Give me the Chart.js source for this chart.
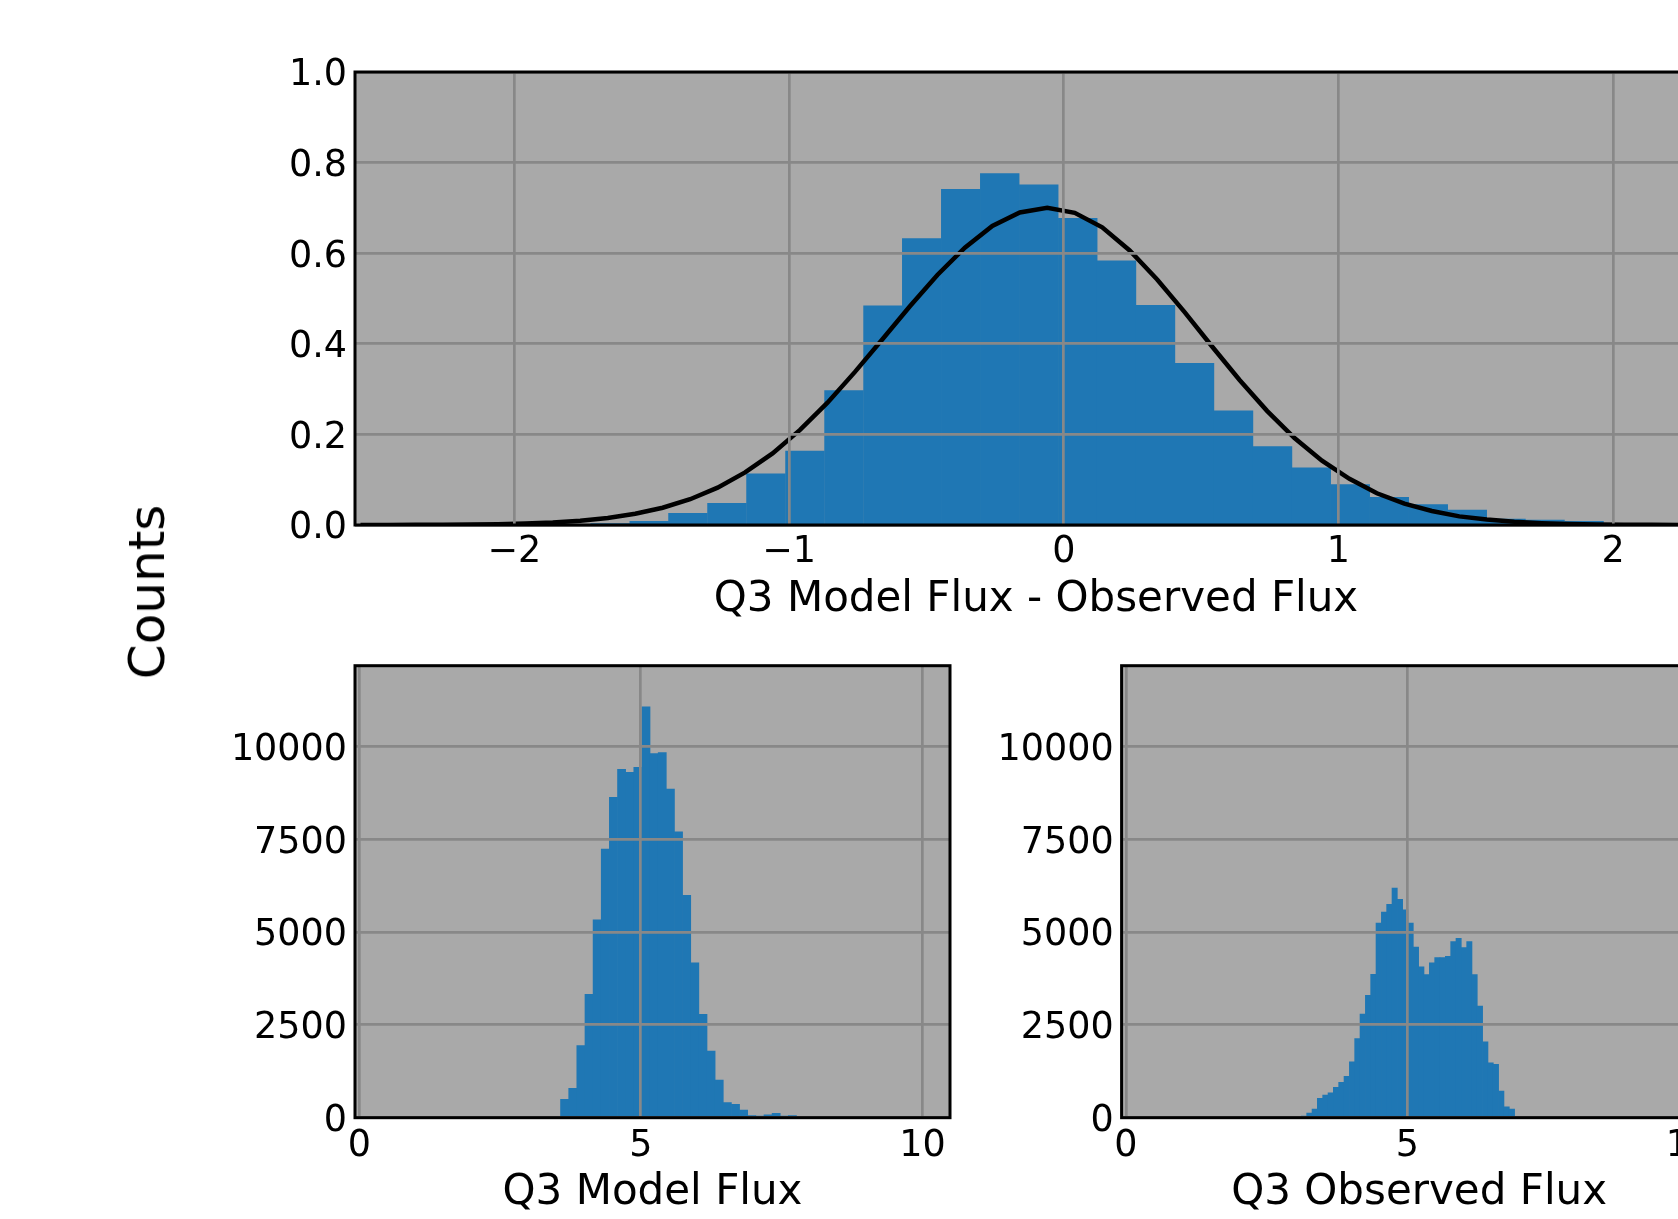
<!DOCTYPE html>
<html>
<head>
<meta charset="utf-8">
<title>Q3 flux histograms</title>
<script src="https://cdn.jsdelivr.net/npm/chart.js@4.4.1/dist/chart.umd.min.js"></script>
<style>
    html, body { margin: 0; padding: 0; background: #fff; overflow: hidden; }
    #fig { position: relative; width: 1678px; height: 1219px; overflow: hidden; background: #fff; }
    #fig canvas { position: absolute; }
    #counts {
        position: absolute; left: 147px; top: 592px;
        transform: translate(-50%, -50%) rotate(-90deg);
        font-family: 'DejaVu Sans', sans-serif; font-size: 50px; line-height: 50px;
        white-space: nowrap; color: #000;
    }
</style>
</head>
<body>
<div id="fig">
    <canvas id="diffChart" width="1760" height="640" style="left:0;top:0"></canvas>
    <canvas id="modelChart" width="1050" height="619" style="left:0;top:600px"></canvas>
    <canvas id="obsChart" width="800" height="619" style="left:960px;top:600px"></canvas>
    <div id="counts">Counts</div>
</div>
<script>
// Model - observed residuals (bin centres, normalised counts)
const diffBins = [-1.651, -1.509, -1.368, -1.226, -1.084, -0.942, -0.800, -0.658, -0.517, -0.375,
                  -0.233, -0.091, 0.051, 0.192, 0.334, 0.476, 0.618, 0.760, 0.901, 1.043,
                  1.185, 1.327, 1.469, 1.610, 1.752, 1.894];
const diffCounts = [0.003, 0.008, 0.026, 0.048, 0.113, 0.163, 0.297, 0.484, 0.632, 0.741,
                    0.776, 0.751, 0.677, 0.583, 0.485, 0.357, 0.252, 0.173, 0.126, 0.089,
                    0.061, 0.045, 0.033, 0.013, 0.011, 0.008];

// Fitted curve
const fitX = [-2.56, -2.46, -2.36, -2.26, -2.16, -2.06, -1.96, -1.86, -1.76, -1.66,
              -1.56, -1.46, -1.36, -1.26, -1.16, -1.06, -0.96, -0.86, -0.76, -0.66,
              -0.56, -0.46, -0.36, -0.26, -0.16, -0.06, 0.04, 0.14, 0.24, 0.34,
              0.44, 0.54, 0.64, 0.74, 0.84, 0.94, 1.04, 1.14, 1.24, 1.34,
              1.44, 1.54, 1.64, 1.74, 1.84, 1.94, 2.04, 2.14, 2.24, 2.34, 2.44];
const fitY = [0.0001, 0.0001, 0.0003, 0.0005, 0.0010, 0.0018, 0.0033, 0.0057, 0.0096, 0.0156,
              0.0247, 0.0381, 0.0569, 0.0824, 0.116, 0.158, 0.210, 0.270, 0.338, 0.410,
              0.483, 0.552, 0.612, 0.660, 0.690, 0.700, 0.689, 0.657, 0.606, 0.542,
              0.470, 0.394, 0.320, 0.252, 0.192, 0.142, 0.102, 0.070, 0.047, 0.031,
              0.019, 0.012, 0.007, 0.004, 0.002, 0.001, 0.0006, 0.0003, 0.0001, 0.0001, 0.0];

const diffTicks = [-2, -1, 0, 1, 2];
const diffTickLabels = ['\u22122', '\u22121', '0', '1', '2'];
const normTicks = [0, 0.2, 0.4, 0.6, 0.8, 1.0];
const normTickLabels = ['0.0', '0.2', '0.4', '0.6', '0.8', '1.0'];

// Q3 model flux histogram
const modelBins = [3.357, 3.502, 3.646, 3.791, 3.935, 4.080, 4.224, 4.369, 4.513, 4.658,
                   4.802, 4.947, 5.091, 5.236, 5.380, 5.525, 5.669, 5.814, 5.958, 6.103,
                   6.247, 6.392, 6.536, 6.681, 6.825, 6.970, 7.114, 7.259, 7.403, 7.548,
                   7.692, 7.837, 7.981, 8.126, 8.270, 8.415, 8.559];
const modelCounts = [15, 25, 494, 791, 1941, 3324, 5328, 7233, 8625, 9380,
                     9299, 9434, 11060, 9802, 9829, 8850, 7700, 5984, 4169, 2785,
                     1797, 1015, 404, 359, 207, 54, 45, 80, 117, 45,
                     54, 27, 18, 12, 15, 20, 8];

// Q3 observed flux histogram
const obsBins = [3.163, 3.258, 3.353, 3.447, 3.542, 3.637, 3.731, 3.826, 3.921, 4.016,
                 4.110, 4.205, 4.300, 4.394, 4.489, 4.584, 4.678, 4.773, 4.868, 4.962,
                 5.057, 5.152, 5.247, 5.341, 5.436, 5.531, 5.625, 5.720, 5.815, 5.909,
                 6.004, 6.099, 6.193, 6.288, 6.383, 6.478, 6.572, 6.667, 6.762, 6.856];
const obsCounts = [45, 125, 233, 520, 609, 672, 815, 950, 1111, 1505,
                   2133, 2787, 3297, 3862, 5242, 5538, 5744, 6183, 5878, 5600,
                   5242, 4597, 4059, 3853, 4167, 4310, 4310, 4346, 4740, 4830,
                   4579, 4740, 3853, 3002, 2043, 1478, 1434, 717, 296, 233];

const fluxTicks = [0, 5, 10];
const fluxTickLabels = ['0', '5', '10'];
const countTicks = [0, 2500, 5000, 7500, 10000];
const countTickLabels = ['0', '2500', '5000', '7500', '10000'];

Chart.defaults.font.family = "'DejaVu Sans', sans-serif";
Chart.defaults.color = '#000';

// Grey panel behind the data and a black frame round it
const panelFrame = {
    id: 'panelFrame',
    beforeDraw(chart) {
        const {ctx, chartArea: a} = chart;
        ctx.save();
        ctx.fillStyle = '#a9a9a9';
        ctx.fillRect(a.left, a.top, a.right - a.left, a.bottom - a.top);
        ctx.restore();
    },
    afterDraw(chart) {
        const {ctx, chartArea: a} = chart;
        ctx.save();
        ctx.strokeStyle = '#000';
        ctx.lineWidth = 3;
        ctx.strokeRect(a.left, a.top, a.right - a.left, a.bottom - a.top);
        ctx.restore();
    }
};

function axis(o) {
    return {
        type: 'linear',
        min: o.min,
        max: o.max,
        offset: false,
        afterBuildTicks: s => { s.ticks = o.ticks.map(v => ({ value: v })); },
        afterFit: s => { if (o.height) s.height = o.height; if (o.width) s.width = o.width; },
        ticks: {
            callback: (v, i) => o.labels[i],
            font: { size: 36.5 },
            color: '#000',
            padding: o.padding,
            labelOffset: o.labelOffset || 0,
            maxRotation: 0,
            autoSkip: false
        },
        grid: { color: '#888888', lineWidth: 2.7, drawTicks: false, offset: false, z: 1 },
        border: { display: false },
        title: o.title ? {
            display: true,
            text: o.title,
            font: { size: 42 },
            color: '#000',
            padding: { top: 0, bottom: o.titlePad }
        } : { display: false }
    };
}

function histogram(bins, counts) {
    return {
        type: 'bar',
        data: bins.map((x, i) => ({ x, y: counts[i] })),
        backgroundColor: '#1f77b4',
        borderWidth: 0,
        barPercentage: 1,
        categoryPercentage: 1,
        order: 1
    };
}

function makePanel(id, datasets, xAxis, yAxis, padding) {
    new Chart(document.getElementById(id), {
        type: 'bar',
        data: { datasets },
        options: {
            responsive: false,
            animation: false,
            devicePixelRatio: 1,
            layout: { padding },
            plugins: { legend: { display: false }, tooltip: { enabled: false } },
            scales: { x: xAxis, y: yAxis }
        },
        plugins: [panelFrame]
    });
}

// Top: residuals with fitted curve
makePanel('diffChart', [
    {
        type: 'line',
        data: fitX.map((x, i) => ({ x, y: fitY[i] })),
        borderColor: '#000',
        borderWidth: 4.5,
        pointRadius: 0,
        tension: 0,
        order: 0
    },
    histogram(diffBins, diffCounts)
],
    axis({ min: -2.58, max: 2.378, ticks: diffTicks, labels: diffTickLabels, padding: 6,
           height: 115, title: 'Q3 Model Flux - Observed Flux', titlePad: 15 }),
    axis({ min: 0, max: 1, ticks: normTicks, labels: normTickLabels, padding: 8, labelOffset: 4, width: 355 }),
    { top: 72, right: 43, left: 0, bottom: 0 });

// Bottom left: model flux
makePanel('modelChart', [histogram(modelBins, modelCounts)],
    axis({ min: -0.076, max: 10.49, ticks: fluxTicks, labels: fluxTickLabels, padding: 7,
           height: 101.3, title: 'Q3 Model Flux', titlePad: 1 }),
    axis({ min: 0, max: 12170, ticks: countTicks, labels: countTickLabels, padding: 8, labelOffset: 4, width: 355 }),
    { top: 65.7, right: 100, left: 0, bottom: 0 });

// Bottom right: observed flux
makePanel('obsChart', [histogram(obsBins, obsCounts)],
    axis({ min: -0.076, max: 10.49, ticks: fluxTicks, labels: fluxTickLabels, padding: 7,
           height: 101.3, title: 'Q3 Observed Flux', titlePad: 1 }),
    axis({ min: 0, max: 12170, ticks: countTicks, labels: countTickLabels, padding: 8, labelOffset: 4, width: 161.6 }),
    { top: 65.7, right: 43.4, left: 0, bottom: 0 });
</script>
</body>
</html>
